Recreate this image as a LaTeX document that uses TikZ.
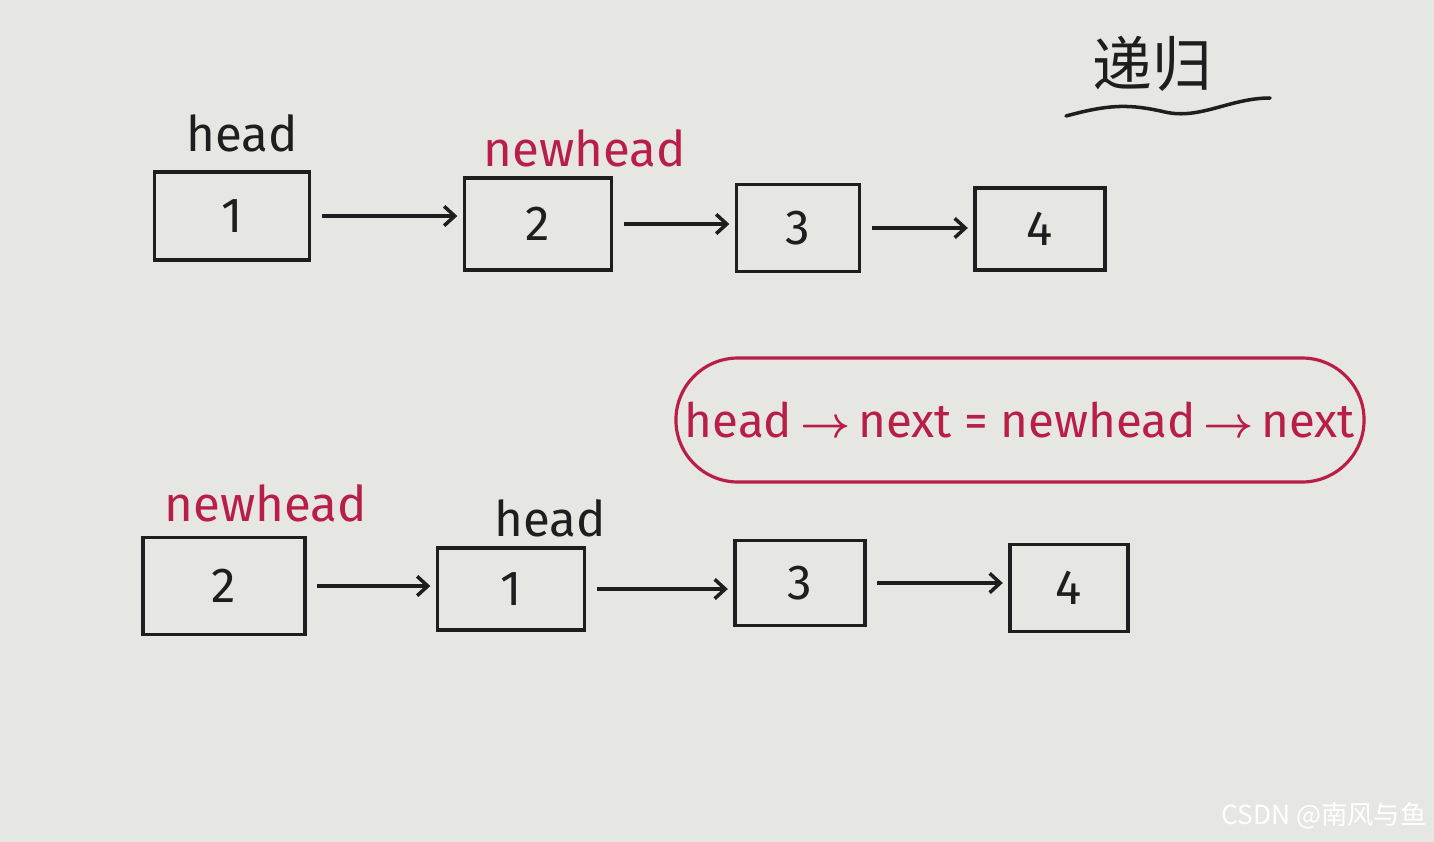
\documentclass[tikz,border=0pt]{standalone}
\usepackage{amsmath}
\usepackage{fontspec}
\setmainfont{Fira Sans}
\newfontfamily\cjkfont{Noto Sans CJK SC}
\usepackage{xcolor}
\usepackage{tikz}
\usetikzlibrary{arrows.meta,positioning,shapes.misc}
\definecolor{paper}{HTML}{E6E6E3}
\definecolor{inkblack}{HTML}{1E1E1E}
\definecolor{inkred}{HTML}{B81E48}
\tikzset{
  % ---- list cells -----------------------------------------------------
  lcell/.style={
    draw=inkblack, line width=2.2pt, minimum width=30mm, minimum height=17mm,
    inner sep=0pt, font=\fontsize{28}{30}\selectfont, text=inkblack},
  % ---- pointer labels -------------------------------------------------
  lhead/.style={font=\fontsize{28}{30}\selectfont, text=inkblack},
  lnew/.style={lhead, text=inkred},
  % ---- connections ----------------------------------------------------
  lflow/.style={
    -{Straight Barb[length=6pt,width=11pt,line width=2pt]}, draw=inkblack,
    line width=2pt, shorten <=6pt, shorten >=3pt},
}
\begin{document}
\begin{tikzpicture}[x=0.02cm, y=-0.02cm]

\fill[paper] (0,0) rectangle (1434,842);
\useasboundingbox (0,0) rectangle (1434,842);

% ---------------- before -----------------------------------------------
\node[lcell, minimum width=31mm, minimum height=17.6mm] (a1) at (232,216) {1};
\node[lcell, minimum width=29.4mm, minimum height=18.4mm] (a2) at (538,224) {2};
\node[lcell, minimum width=24.6mm, minimum height=17.4mm] (a3) at (798,228) {3};
\node[lcell, minimum width=26mm, minimum height=16.4mm] (a4) at (1040,229) {4};

\node[lhead] (ahead) at (242,133) {head};
\node[lnew] (anew) at (585,148) {newhead};

\draw[lflow] (a1.east) -- (a1.east -| a2.west);
\draw[lflow] (a2.east) -- (a2.east -| a3.west);
\draw[lflow] (a3.east) -- (a3.east -| a4.west);

% ---------------- after ------------------------------------------------
\node[lcell, minimum width=32.4mm, minimum height=19.4mm] (b2) at (224,586) {2};
\node[lcell, minimum width=29.4mm, minimum height=16.4mm] (b1) at (511,589) {1};
\node[lcell, minimum width=26mm, minimum height=17mm] (b3) at (800,583) {3};
\node[lcell, minimum width=23.6mm, minimum height=17.4mm] (b4) at (1069,588) {4};

\node[lnew] (bnew) at (266,503) {newhead};
\node[lhead] (bhead) at (550,518) {head};

\draw[lflow] (b2.east) -- (b2.east -| b1.west);
\draw[lflow] (b1.east) -- (b1.east -| b3.west);
\draw[lflow] (b3.east) -- (b3.east -| b4.west);

% ---------------- rule -------------------------------------------------
\node[rounded rectangle, draw=inkred, line width=1.8pt, text=inkred,
      minimum width=140mm, minimum height=24.8mm,
      font=\fontsize{27}{30}\selectfont] (rule) at (1020,420)
  {head\,$\boldsymbol{\rightarrow}$\,next = newhead\,$\boldsymbol{\rightarrow}$\,next};

% ---------------- title ------------------------------------------------
\node[font=\cjkfont\fontsize{34}{36}\selectfont, text=inkblack] (title)
  at (1152,64) {递归};
\draw[inkblack, line width=2pt, line cap=round]
  (1066,116) .. controls (1110,104) and (1130,104) .. (1165,112)
  .. controls (1200,120) and (1230,98) .. (1270,98);

\node[font=\cjkfont\fontsize{15}{17}\selectfont, text=white] (mark)
  at (1324,816) {CSDN @南风与鱼};

\end{tikzpicture}
\end{document}
